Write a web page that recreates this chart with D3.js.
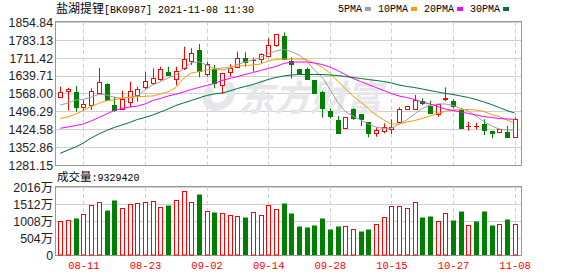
<!DOCTYPE html>
<html>
<head>
<meta charset="utf-8">
<script src="https://cdn.jsdelivr.net/npm/d3@7/dist/d3.min.js"></script>
<style>
  body { margin: 0; background: #fff; }
  .axisLabel { font-family: "Liberation Sans", Arial, "Noto Sans CJK SC", sans-serif; font-size: 12.3px; fill: #222; }
  .mono { font-family: "Liberation Mono", "Noto Sans CJK SC", monospace; }
</style>
</head>
<body>
<div id="chart"></div>
<script>

//DATA (volume in 万)
const dates = ["08-06","08-09","08-10","08-11","08-12","08-13","08-16","08-17","08-18","08-19",
  "08-20","08-23","08-24","08-25","08-26","08-27","08-30","08-31","09-01","09-02",
  "09-03","09-06","09-07","09-08","09-09","09-10","09-13","09-14","09-15","09-16",
  "09-17","09-22","09-23","09-24","09-27","09-28","09-29","09-30","10-08","10-11",
  "10-12","10-13","10-14","10-15","10-18","10-19","10-20","10-21","10-22","10-25",
  "10-26","10-27","10-28","10-29","11-01","11-02","11-03","11-04","11-05","11-08"];

const opens = [1555.1,1578.0,1575.2,1512.6,1520.6,1571.2,1608.1,1521.8,1507.0,1532.7,
  1560.8,1595.3,1608.9,1625.0,1653.0,1627.4,1669.1,1699.6,1742.5,1645.0,
  1665.1,1602.1,1655.4,1675.5,1709.2,1701.2,1705.2,1718.4,1760.6,1798.7,
  1699.6,1666.3,1666.3,1622.1,1575.2,1499.0,1461.7,1428.4,1504.6,1484.5,
  1452.4,1408.3,1418.7,1426.8,1452.4,1504.6,1504.6,1539.1,1517.8,1485.7,
  1547.9,1537.9,1501.8,1436.8,1436.8,1444.4,1418.7,1414.7,1414.7,1392.3];

const closes = [1574.0,1588.0,1515.0,1524.7,1578.0,1614.1,1541.9,1501.8,1545.9,1578.0,
  1584.8,1618.1,1629.0,1665.1,1641.0,1659.5,1705.2,1729.3,1659.5,1685.1,
  1608.9,1649.0,1671.5,1709.2,1695.6,1703.6,1726.5,1762.6,1805.5,1706.4,
  1686.3,1651.4,1626.2,1571.2,1508.6,1477.7,1408.3,1472.5,1470.9,1464.5,
  1408.3,1421.5,1432.4,1434.8,1505.8,1517.8,1541.9,1527.9,1491.0,1525.9,
  1549.9,1517.8,1430.8,1438.4,1438.4,1421.5,1410.7,1424.4,1394.7,1464.5];

const highs = [1595.3,1590.0,1598.1,1541.9,1588.8,1670.3,1608.9,1555.1,1579.2,1615.3,
  1595.3,1655.4,1669.1,1675.5,1675.5,1675.5,1755.7,1749.3,1766.6,1695.6,
  1682.3,1651.4,1685.1,1735.7,1733.3,1711.6,1729.3,1789.4,1805.5,1812.7,
  1712.4,1666.3,1671.5,1622.1,1578.0,1508.6,1477.7,1473.7,1508.6,1484.5,
  1452.4,1432.4,1448.4,1464.5,1512.6,1517.8,1562.0,1548.7,1539.1,1525.9,
  1592.9,1544.7,1511.0,1454.8,1450.8,1464.5,1418.7,1424.4,1437.6,1472.5];

const lows = [1552.7,1499.8,1495.0,1499.0,1501.8,1568.8,1539.1,1495.0,1504.6,1512.6,
  1535.1,1584.8,1602.1,1619.3,1638.2,1600.9,1662.3,1682.3,1633.0,1635.4,
  1588.8,1566.0,1635.4,1673.1,1675.5,1655.4,1689.1,1713.2,1755.7,1702.4,
  1628.2,1649.0,1622.1,1568.8,1470.9,1468.5,1406.0,1427.6,1461.7,1437.6,
  1392.3,1394.7,1408.3,1405.5,1448.4,1504.6,1501.8,1521.8,1491.0,1474.9,
  1537.9,1508.6,1428.4,1418.7,1424.4,1401.5,1388.2,1408.3,1394.7,1392.3];

const ma5 = [1521.8,1529.9,1541.9,1544.7,1552.7,1564.8,1562.0,1552.7,1548.7,1552.7,
  1558.0,1582.0,1602.1,1615.3,1630.2,1642.2,1668.3,1690.3,1695.6,1682.3,
  1668.3,1662.3,1669.1,1684.3,1694.4,1702.4,1712.4,1726.5,1738.5,1744.5,
  1736.5,1722.4,1698.4,1662.3,1634.2,1586.0,1533.9,1495.8,1477.7,1461.7,
  1445.6,1433.6,1428.4,1428.4,1445.6,1461.7,1485.7,1507.8,1521.8,1525.9,
  1525.9,1519.8,1507.8,1497.8,1476.5,1455.6,1437.6,1425.6,1421.5,1421.5];

const ma10 = [1468.5,1473.7,1485.7,1499.8,1515.0,1528.7,1539.1,1541.9,1549.9,1551.9,
  1555.1,1556.7,1558.0,1566.0,1575.2,1592.1,1628.2,1650.2,1655.4,1662.3,
  1666.3,1670.3,1674.3,1678.3,1680.3,1682.3,1686.3,1698.4,1704.4,1706.4,
  1706.4,1706.4,1704.4,1690.3,1674.3,1650.2,1618.1,1588.0,1558.0,1533.9,
  1507.8,1481.7,1461.7,1445.6,1445.6,1453.6,1459.7,1467.7,1477.7,1487.7,
  1495.8,1501.8,1503.8,1503.8,1501.8,1495.8,1483.7,1475.7,1461.7,1448.4];

const ma20 = [1428.4,1433.6,1439.6,1445.6,1457.7,1471.7,1485.7,1499.8,1507.8,1513.8,
  1517.8,1525.9,1539.9,1547.9,1558.0,1564.8,1574.0,1584.0,1592.1,1600.1,
  1608.1,1620.1,1628.2,1636.2,1644.2,1652.2,1660.3,1668.3,1676.3,1688.3,
  1693.6,1694.4,1694.4,1690.3,1684.3,1674.3,1660.3,1644.2,1628.2,1616.1,
  1604.1,1592.1,1580.0,1568.0,1558.0,1551.9,1543.9,1533.9,1525.9,1515.8,
  1505.8,1499.8,1493.8,1487.7,1481.7,1475.7,1471.7,1467.7,1465.7,1464.5];

const ma30 = [1328.1,1341.3,1353.3,1369.4,1389.4,1405.5,1419.5,1431.6,1441.6,1451.6,
  1463.7,1471.7,1481.7,1493.8,1505.8,1519.8,1529.9,1539.9,1549.9,1560.0,
  1566.0,1570.0,1578.0,1588.0,1596.1,1604.1,1614.1,1624.2,1632.2,1638.2,
  1642.2,1644.2,1644.2,1644.2,1644.2,1642.2,1640.2,1636.2,1632.2,1628.2,
  1624.2,1620.1,1616.1,1610.1,1602.1,1596.1,1592.1,1586.0,1580.0,1574.0,
  1568.0,1564.0,1558.0,1551.9,1543.9,1533.9,1523.8,1511.8,1499.8,1489.7];

const volumes = [1008,1029,1097,1216,1482,1571,1334,1631,1393,1512,
  1542,1571,1601,1423,1492,1631,1898,1571,1818,1305,
  1275,1255,1186,1156,1127,1275,1186,1482,1364,1551,
  1255,869,839,899,1107,780,869,860,771,721,
  780,919,1127,1453,1453,1393,1571,1136,1156,1008,
  1245,1047,1314,889,1017,1314,899,928,1077,933];

// 1 = red (up) bar, 0 = green (down) bar
const volUp = [1,1,0,1,1,1,0,0,1,1, 1,1,1,1,0,1,1,1,0,1, 0,1,1,1,0,1,1,1,1,0,
  0,0,0,0,0,0,0,1,1,0, 0,1,1,1,1,1,1,0,0,1, 1,0,0,1,0,0,0,1,0,1];

const priceTicks = [1281.15,1352.86,1424.58,1496.29,1568.00,1639.71,1711.42,1783.13,1854.84];
const volTicks = [0,504,1008,1512,2016];
const dateTicks = ["08-11","08-23","09-02","09-14","09-28","10-15","10-27","11-08"];

const maNames = ["5PMA","10PMA","20PMA","30PMA"];
const maColors = ["#a0a0a0","#f0a000","#ff00ff","#00703a"];

const title = "盐湖提锂";
const titleInfo = "[BK0987] 2021-11-08 11:30";
const lastVolume = "9329420";

//SETUP
var width = 578;
var height = 276;
const RED = "#ff0000";
const GREEN = "#008000";
const GRID = "#d0d0d0";
const FRAME = "#999";
const MARK = "#e6e6eb";

let svg = d3.select("#chart").append("svg")
  .attr("width", width)
  .attr("height", height)
  .style("display", "block");

svg.append("rect").attr("width", width).attr("height", height).attr("fill", "#fff");

const plot = {left: 56, right: 522, top: 22, bottom: 165};
const vol = {left: 56, right: 522, top: 187, bottom: 255};

let x = d3.scalePoint()
  .domain(dates)
  .range([60.3, 514.6]);

let y = d3.scaleLinear()
  .domain([1281.15, 1854.84])
  .range([plot.bottom, plot.top]);

let yVol = d3.scaleLinear()
  .domain([0, 2016])
  .range([vol.bottom, vol.top]);

const px = v => Math.round(v) + 0.5;

//GRIDS
function drawGrid(box, ticks, scale) {
  svg.append("g").selectAll("line")
    .data(ticks)
    .enter().append("line")
    .attr("x1", box.left).attr("x2", box.right)
    .attr("y1", d => px(scale(d))).attr("y2", d => px(scale(d)))
    .attr("stroke", GRID);

  svg.append("g").selectAll("line")
    .data(dateTicks)
    .enter().append("line")
    .attr("x1", d => px(x(d))).attr("x2", d => px(x(d)))
    .attr("y1", box.top).attr("y2", box.bottom)
    .attr("stroke", GRID)
    .attr("stroke-dasharray", "4,3");
}
drawGrid(plot, priceTicks, y);
drawGrid(vol, volTicks, yVol);

//watermark (logo + name)
svg.append("path")
  .attr("transform", "translate(219, 95) skewX(-12)")
  .attr("d", d3.arc().innerRadius(8).outerRadius(16).startAngle(0.5).endAngle(5.4)())
  .attr("fill", MARK);
svg.append("text")
  .attr("x", 238).attr("y", 111)
  .attr("font-family", "Noto Sans CJK SC")
  .attr("font-size", 36)
  .attr("font-weight", "bold")
  .attr("font-style", "italic")
  .attr("fill", MARK)
  .text("东方财富");

//frames
[plot, vol].forEach(b => {
  svg.append("rect")
    .attr("x", b.left - 0.5).attr("y", b.top - 0.5)
    .attr("width", b.right - b.left).attr("height", b.bottom - b.top + 1)
    .attr("fill", "none")
    .attr("stroke", FRAME);
});

//CANDLES
let candles = dates.map((d, i) => ({
  date: d, open: opens[i], close: closes[i], high: highs[i], low: lows[i]
}));

let cg = svg.append("g");

candles.forEach(d => {
  let cx = Math.round(x(d.date));
  let up = d.close >= d.open;
  let color = up ? RED : GREEN;

  cg.append("line")
    .attr("x1", cx + 0.5).attr("x2", cx + 0.5)
    .attr("y1", y(d.high)).attr("y2", y(d.low))
    .attr("stroke", color);

  let top = Math.round(y(Math.max(d.open, d.close)));
  let bot = Math.round(y(Math.min(d.open, d.close)));

  if (bot - top < 1) {
    cg.append("line")
      .attr("x1", cx - 2).attr("x2", cx + 3)
      .attr("y1", top + 0.5).attr("y2", top + 0.5)
      .attr("stroke", color);
  } else if (up) {
    cg.append("rect")
      .attr("x", cx - 1.5).attr("y", top + 0.5)
      .attr("width", 4).attr("height", bot - top)
      .attr("fill", "#fff")
      .attr("stroke", RED);
  } else {
    cg.append("rect")
      .attr("x", cx - 2).attr("y", top)
      .attr("width", 5).attr("height", bot - top + 1)
      .attr("fill", GREEN);
  }
});

//MOVING AVERAGES
let line = d3.line()
  .x((d, i) => x(dates[i]))
  .y(d => y(d));

[ma5, ma10, ma20, ma30].forEach((series, k) => {
  svg.append("path")
    .datum(series)
    .attr("d", line)
    .attr("fill", "none")
    .attr("stroke", maColors[k])
    .attr("stroke-width", 1);
});

//VOLUME BARS
svg.append("g").selectAll("rect")
  .data(volumes)
  .enter().append("rect")
  .attr("x", (d, i) => volUp[i] ? Math.round(x(dates[i])) - 1.5 : Math.round(x(dates[i])) - 2)
  .attr("y", d => Math.round(yVol(d)) + 0.5)
  .attr("width", (d, i) => volUp[i] ? 4 : 5)
  .attr("height", d => vol.bottom - Math.round(yVol(d)) - 0.5)
  .attr("fill", (d, i) => volUp[i] ? "#fff" : GREEN)
  .attr("stroke", (d, i) => volUp[i] ? RED : "none");

//AXES
let yAxis = d3.axisLeft(y)
  .tickValues(priceTicks)
  .tickSize(0)
  .tickPadding(3)
  .tickFormat(d3.format(".2f"));

svg.append("g")
  .attr("transform", `translate(${plot.left}, 0)`)
  .call(yAxis)
  .call(g => g.select(".domain").remove())
  .selectAll("text")
  .attr("class", "axisLabel")
  .attr("dy", "0.35em");

let volAxis = d3.axisLeft(yVol)
  .tickValues(volTicks)
  .tickSize(0)
  .tickPadding(3)
  .tickFormat(d => d === 0 ? "0" : d + "万");

svg.append("g")
  .attr("transform", `translate(${vol.left}, 0)`)
  .call(volAxis)
  .call(g => g.select(".domain").remove())
  .selectAll("text")
  .attr("class", "axisLabel")
  .attr("dy", "0.35em");

let xAxis = d3.axisBottom(x)
  .tickValues(dateTicks)
  .tickSize(0)
  .tickPadding(0);

svg.append("g")
  .attr("transform", `translate(0, ${vol.bottom + 7})`)
  .call(xAxis)
  .call(g => g.select(".domain").remove())
  .selectAll("text")
  .attr("class", "mono")
  .attr("font-size", "10.5px")
  .attr("fill", RED);

//TITLES
let t = svg.append("text")
  .attr("x", 56).attr("y", 13)
  .attr("fill", "#000");
t.append("tspan")
  .attr("font-family", "Noto Sans CJK SC")
  .attr("font-size", "12px")
  .text(title);
t.append("tspan")
  .attr("class", "mono")
  .attr("font-size", "10px")
  .text(titleInfo);

let v = svg.append("text")
  .attr("x", 57).attr("y", 181)
  .attr("fill", "#000");
v.append("tspan")
  .attr("font-family", "Noto Sans CJK SC")
  .attr("font-size", "11.5px")
  .text("成交量");
v.append("tspan")
  .attr("class", "mono")
  .attr("font-size", "10px")
  .text(":" + lastVolume);

//LEGEND
let lx = 338;
maNames.forEach((name, k) => {
  let txt = svg.append("text")
    .attr("class", "mono")
    .attr("x", lx).attr("y", 12)
    .attr("font-size", "10px")
    .attr("fill", "#000")
    .text(name);
  lx += txt.node().getComputedTextLength() + 3;
  svg.append("rect")
    .attr("x", lx).attr("y", 7)
    .attr("width", 6).attr("height", 4)
    .attr("fill", maColors[k]);
  lx += 13;
});

</script>
</body>
</html>
